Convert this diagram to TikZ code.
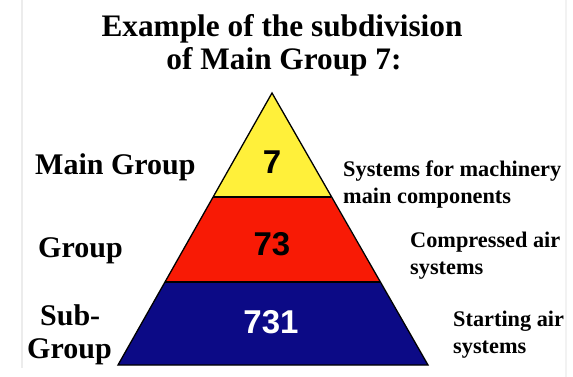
\documentclass[tikz,border=0pt]{standalone}
\usepackage{fontspec}
\setmainfont{Liberation Serif}
\newfontfamily\numfont{Liberation Sans}
\definecolor{pyellow}{HTML}{FFF03A}
\definecolor{pred}{HTML}{F81A05}
\definecolor{pblue}{HTML}{0C0A86}
\begin{document}
\begin{tikzpicture}[x=1pt,y=-1pt,
  title/.style={font=\bfseries\fontsize{31.3}{35}\selectfont, align=center, inner sep=0},
  lvl/.style={font=\bfseries\fontsize{30}{33}\selectfont, align=left, inner sep=0, anchor=base west},
  desc/.style={font=\bfseries\fontsize{22.3}{27}\selectfont, align=left, inner sep=0, anchor=base west},
  num/.style={font=\numfont\bfseries\fontsize{33}{33}\selectfont, inner sep=0},
  tier/.style={draw=black, line width=1.3pt, line join=miter}]
\useasboundingbox (0,0) rectangle (573,377);
\fill[white] (0,0) rectangle (573,377);
\draw[gray!15, line width=1.5pt] (22,0) -- (22,368);
\draw[gray!10, line width=1.5pt] (566,0) -- (566,377);
% pyramid corners
\coordinate (apex) at (272,93);
\coordinate (yl) at (213,197);
\coordinate (yr) at (331,197);
\coordinate (rl) at (165,282);
\coordinate (rr) at (380,282);
\coordinate (bl) at (118,365);
\coordinate (br) at (428,365);
\fill[pblue] (rl) -- (rr) -- (br) -- (bl) -- cycle;
\fill[pred] (yl) -- (yr) -- (rr) -- (rl) -- cycle;
\fill[pyellow] (apex) -- (yr) -- (yl) -- cycle;
\draw[tier] (apex) -- (br) -- (bl) -- cycle;
\draw[tier] (yl) -- (yr);
\draw[tier] (rl) -- (rr);
% title
\node[title, anchor=base] (t1) at (282,37) {Example of the subdivision};
\node[title, anchor=base] (t2) at (284,70) {of Main Group 7:};
% numbers
\node[num] (n7) at (272,162) {7};
\node[num] (n73) at (272,244) {73};
\node[num, text=white] (n731) at (271,322) {731};
% left labels
\node[lvl] (lmain) at (35,175) {Main Group};
\node[lvl] (lgroup) at (38,257) {Group};
\node[lvl] (lsub1) at (40,325) {Sub-};
\node[lvl] (lsub2) at (27,358) {Group};
% right labels
\node[desc] (d1) at (343,203) {Systems for machinery\\main components};
\node[desc] (d2) at (410,274) {Compressed air\\systems};
\node[desc] (d3) at (453,353) {Starting air\\systems};
\end{tikzpicture}
\end{document}
